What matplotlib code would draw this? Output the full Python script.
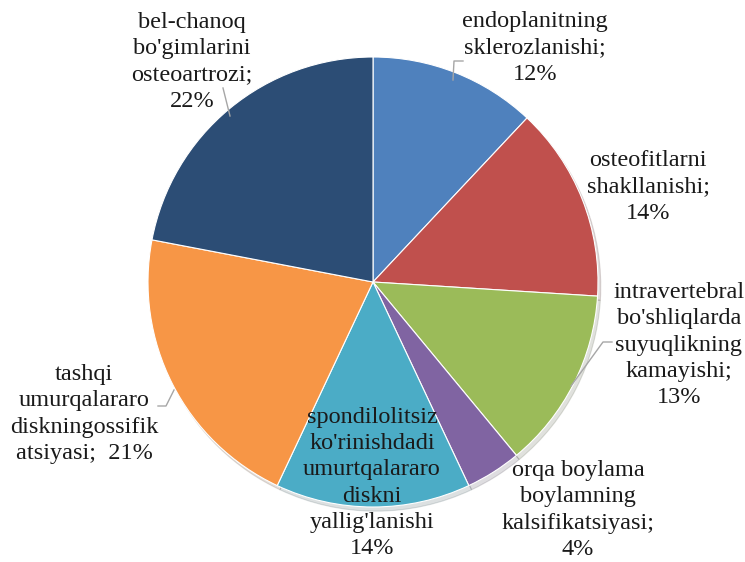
import matplotlib.pyplot as plt
from matplotlib.patches import Shadow

labels = [
    "endoplanitning\nsklerozlanishi;\n12%",
    "osteofitlarni\nshakllanishi;\n14%",
    "intravertebral\nbo'shliqlarda\nsuyuqlikning\nkamayishi;\n13%",
    "orqa boylama\nboylamning\nkalsifikatsiyasi;\n4%",
    "spondilolitsiz\nko'rinishdadi\numurtqalararo\ndiskni\nyallig'lanishi\n14%",
    "tashqi\numurqalararo\ndiskningossifik\natsiyasi;  21%",
    "bel-chanoq\nbo'gimlarini\nosteoartrozi;\n22%",
]
values = [12, 14, 13, 4, 14, 21, 22]
colors = ["#4F81BD", "#C0504D", "#9BBB59", "#8064A2", "#4BACC6", "#F79646", "#2C4D75"]

# label anchor positions (pixels, y from top)
label_pos = [(535, 48), (648, 187), (679, 345), (578, 510), (372, 483), (84, 414), (192, 62)]
leaders = [
    [(463, 61), (454, 61), (453, 80)],
    None,
    [(612, 342), (603, 342), (571, 386)],
    None,
    None,
    [(158, 406), (166, 406), (174, 390)],
    [(223, 88), (230, 116)],
]

W, H = 745, 562
fig = plt.figure(figsize=(W / 100, H / 100), dpi=100)
ax = fig.add_axes([0, 0, 1, 1])

cx, cy, r = 373, H - 282, 225
wedges, _ = ax.pie(values, colors=colors, startangle=90, counterclock=False,
                   center=(cx, cy), radius=r, frame=True,
                   wedgeprops=dict(linewidth=0.8, edgecolor="white"))
for w in wedges:
    s = Shadow(w, 2, -3, alpha=0.15)
    s.set_zorder(w.get_zorder() - 1)
    ax.add_patch(s)
ax.set_xlim(0, W)
ax.set_ylim(0, H)
ax.axis("off")
ax.set_aspect("equal")

for lab, (x, y) in zip(labels, label_pos):
    ax.text(x, H - y, lab, ha="center", va="center", fontsize=17.5,
            family="Liberation Serif", linespacing=1.33, color="#1a1a1a", zorder=5)

for seg in leaders:
    if seg:
        ax.plot([p[0] for p in seg], [H - p[1] for p in seg], color="#a6a6a6", lw=1, zorder=4)

fig.savefig("out.png", dpi=100)
